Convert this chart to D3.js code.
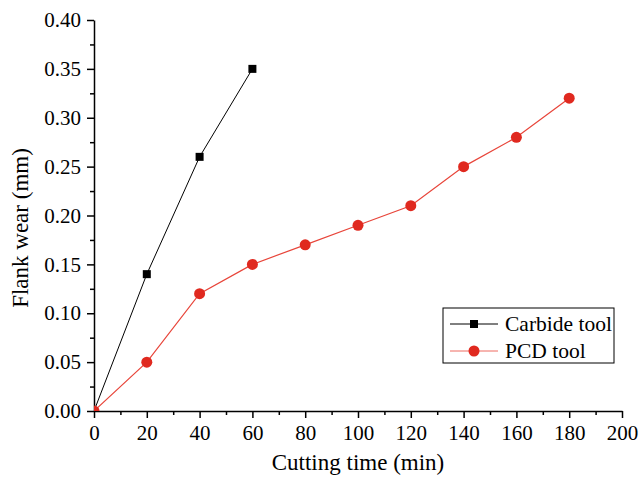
<!DOCTYPE html>
<html><head><meta charset="utf-8"><script src="https://cdn.jsdelivr.net/npm/d3@7"></script></head>
<body style="margin:0">
<script>
// data
var timeCarbide = [0, 20, 40, 60];
var wearCarbide = [0, 0.14, 0.26, 0.35];
var timePCD = [0, 20, 40, 60, 80, 100, 120, 140, 160, 180];
var wearPCD = [0, 0.05, 0.12, 0.15, 0.17, 0.19, 0.21, 0.25, 0.28, 0.32];
var xTicks = [0, 20, 40, 60, 80, 100, 120, 140, 160, 180, 200];
var yTicks = [0, 0.05, 0.1, 0.15, 0.2, 0.25, 0.3, 0.35, 0.4];

var serif = "Liberation Serif";

var svgWidth = 641, svgHeight = 478;
var margin = { top: 20, right: 19, bottom: 67, left: 94 };
var width = svgWidth - margin.left - margin.right;
var height = svgHeight - margin.top - margin.bottom;

var svg = d3.select("body").append("svg")
  .attr("width", svgWidth)
  .attr("height", svgHeight);

var g = svg.append("g")
  .attr("transform", `translate(${margin.left}, ${margin.top})`);

var x = d3.scaleLinear().domain([0, 200]).range([0, width]);
var y = d3.scaleLinear().domain([0, 0.4]).range([height, 0]);

// minor ticks
g.append("g")
  .attr("transform", `translate(0, ${height})`)
  .call(d3.axisBottom(x).tickValues(d3.range(10, 200, 20)).tickSize(4).tickFormat(""))
  .call(a => a.select(".domain").remove());
g.append("g")
  .call(d3.axisLeft(y).tickValues(d3.range(0.025, 0.4, 0.05)).tickSize(4).tickFormat(""))
  .call(a => a.select(".domain").remove());

// major axes
g.append("g")
  .attr("transform", `translate(0, ${height})`)
  .call(d3.axisBottom(x).tickValues(xTicks).tickSize(7).tickPadding(7).tickSizeOuter(0));

g.append("g")
  .call(d3.axisLeft(y).tickValues(yTicks).tickSize(7).tickPadding(6).tickSizeOuter(0).tickFormat(d3.format(".2f")));

g.selectAll("g").attr("font-family", null).attr("font-size", null);
g.selectAll(".tick text").attr("fill", "#000").style("font-size", "21px", "important");
g.selectAll(".domain, .tick line").attr("stroke", "#000").attr("stroke-width", 1.5);

// clip so markers on the origin only show inside the plot
g.append("clipPath").attr("id", "plotclip")
  .append("rect").attr("x", 0).attr("y", -10).attr("width", width + 10).attr("height", height + 10);

var plot = g.append("g").attr("clip-path", "url(#plotclip)");

var carbide = timeCarbide.map((t, i) => ({ t: t, w: wearCarbide[i] }));
var pcd = timePCD.map((t, i) => ({ t: t, w: wearPCD[i] }));

var line = d3.line().x(d => x(d.t)).y(d => y(d.w));

plot.append("path").datum(carbide)
  .attr("d", line).attr("fill", "none").attr("stroke", "#000").attr("stroke-width", 1);
plot.selectAll(".sq").data(carbide).enter().append("rect")
  .attr("x", d => x(d.t) - 4).attr("y", d => y(d.w) - 4)
  .attr("width", 8).attr("height", 8).attr("fill", "#000");

plot.append("path").datum(pcd)
  .attr("d", line).attr("fill", "none").attr("stroke", "#e8453a").attr("stroke-width", 1.2);
plot.selectAll(".dot").data(pcd).enter().append("circle")
  .attr("cx", d => x(d.t)).attr("cy", d => y(d.w)).attr("r", 5.5)
  .attr("fill", "#e0291f");

// axis titles
svg.append("text")
  .attr("x", 358).attr("y", 470)
  .attr("text-anchor", "middle").style("font-size", "23px")
  .text("Cutting time (min)");

svg.append("text")
  .attr("transform", "translate(28, 228) rotate(-90)")
  .attr("text-anchor", "middle").style("font-size", "23px")
  .text("Flank wear (mm)");

// legend
var legend = svg.append("g").attr("transform", "translate(443, 308)");
legend.append("rect").attr("width", 171).attr("height", 55)
  .attr("fill", "#fff").attr("stroke", "#000").attr("stroke-width", 1);

var items = [
  { name: "Carbide tool", color: "#000", line: "#000", shape: "square" },
  { name: "PCD tool", color: "#e0291f", line: "#ee6a60", shape: "circle" }
];
items.forEach(function(it, i) {
  var yy = 16 + i * 27;
  legend.append("line").attr("x1", 7).attr("x2", 55).attr("y1", yy).attr("y2", yy)
    .attr("stroke", it.line).attr("stroke-width", 1);
  if (it.shape === "square") {
    legend.append("rect").attr("x", 27).attr("y", yy - 4).attr("width", 8).attr("height", 8).attr("fill", it.color);
  } else {
    legend.append("circle").attr("cx", 31).attr("cy", yy).attr("r", 5.5).attr("fill", it.color);
  }
  legend.append("text").attr("x", 62).attr("y", yy + 7)
    .style("font-size", "21.5px").text(it.name);
});

// serif face on every label, set last so nothing overrides it
svg.selectAll("text").style("font-family", serif, "important");
</script>
</body>
</html>
